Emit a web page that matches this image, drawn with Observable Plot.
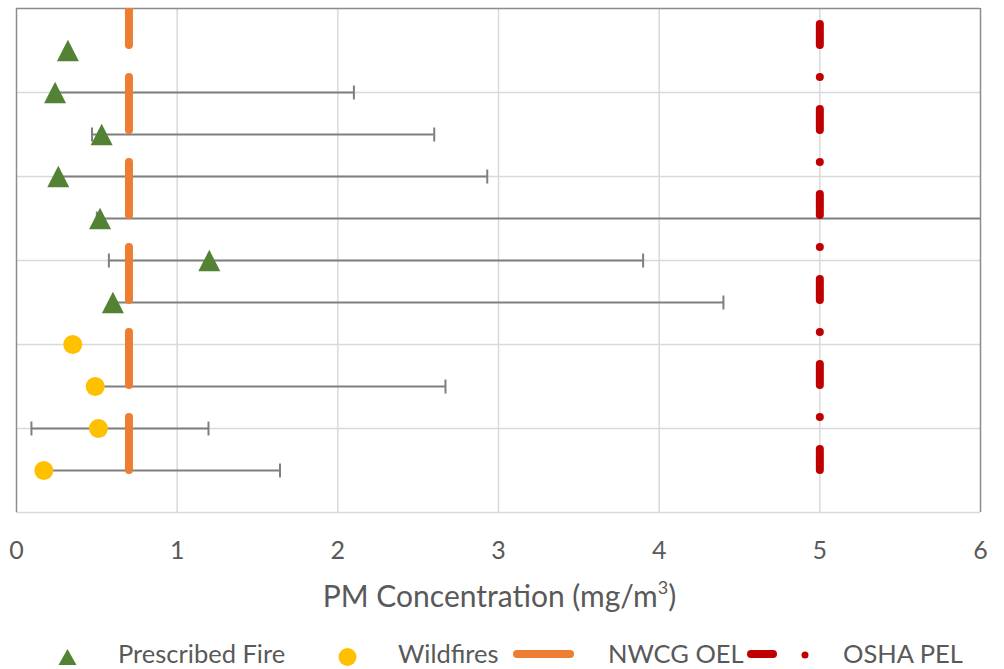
<!DOCTYPE html>
<html>
<head>
<meta charset="utf-8">
<script src="https://cdn.jsdelivr.net/npm/d3@7"></script>
<script src="https://cdn.jsdelivr.net/npm/@observablehq/plot@0.6"></script>
<style>
  body { margin: 0; background: #fff; }
  #wrap { position: relative; width: 1004px; height: 669px; overflow: hidden; font-family: Lato, sans-serif; color: #595959; }
  #chart { position: absolute; left: 0; top: 0; }
  .title { position: absolute; left: 0; width: 999px; text-align: center; top: 580px; font-size: 30px; line-height: 30px; white-space: nowrap; }
  .lg { position: absolute; top: 641px; font-size: 25.5px; line-height: 25px; white-space: nowrap; }
  #legendsw { position: absolute; left: 0; top: 0; }
</style>
</head>
<body>
<div id="wrap">
  <div id="chart"></div>
  <div class="title">PM Concentration (mg/m<sup style="font-size:0.6em;vertical-align:0.7em;line-height:0">3</sup>)</div>
</div>
<script>
// ---------------- data ----------------
const rowY   = [11, 10, 9, 8, 7, 6, 5, 4, 3, 2, 1];
const series = ["Prescribed Fire", "Prescribed Fire", "Prescribed Fire", "Prescribed Fire",
                "Prescribed Fire", "Prescribed Fire", "Prescribed Fire",
                "Wildfires", "Wildfires", "Wildfires", "Wildfires"];
const pm     = [0.32, 0.24, 0.53, 0.26, 0.52, 1.20, 0.60, 0.35, 0.49, 0.51, 0.17];
const pmLow  = [null, 0.24, 0.47, 0.26, 0.50, 0.575, 0.60, null, 0.49, 0.093, 0.17];
const pmHigh = [null, 2.10, 2.60, 2.93, 6.40, 3.90, 4.40, null, 2.67, 1.195, 1.64];
const refNames  = ["NWCG OEL", "OSHA PEL"];
const refValues = [0.7, 5];
const refSpan   = [1, 12];           // vertical extent of the limit lines (y units)
const xTicks    = [0, 1, 2, 3, 4, 5, 6];
const yGrid     = [2, 4, 6, 8, 10];
const yDomain   = [0, 12];

// ---------------- build table ----------------
const rows = rowY.map((y, i) => ({y, series: series[i], pm: pm[i], low: pmLow[i], high: pmHigh[i]}));
const withBars = rows.filter(d => d.high != null);
const refs = refNames.map((name, i) => ({name, x: refValues[i], y1: refSpan[0], y2: refSpan[1]}));

const colors = {"Prescribed Fire": "#548235", "Wildfires": "#ffc000", "NWCG OEL": "#ed7d31", "OSHA PEL": "#c00000"};

const capSymbol = {draw(ctx, size) { const h = Math.sqrt(size / Math.PI); ctx.moveTo(0, -h); ctx.lineTo(0, h); }};
const triSymbol = {draw(ctx, size) { const h = Math.sqrt(size / Math.PI); ctx.moveTo(0, -h * 0.97); ctx.lineTo(h, h * 0.97); ctx.lineTo(-h, h * 0.97); ctx.closePath(); }};

const W = 1004, H = 570;
const chart = Plot.plot({
  width: W, height: H,
  marginTop: 8, marginLeft: 16, marginRight: 24, marginBottom: 58,
  style: {fontFamily: "Lato, sans-serif", background: "#fff", color: "#595959"},
  x: {domain: [xTicks[0], xTicks[xTicks.length - 1]]},
  y: {domain: yDomain, axis: null},
  marks: [
    Plot.ruleX(xTicks.slice(1, -1), {stroke: "#d9d9d9", strokeWidth: 1.5}),
    Plot.ruleY(yGrid, {stroke: "#d9d9d9", strokeWidth: 1.5}),
    Plot.ruleY([yDomain[0]], {stroke: "#d9d9d9", strokeWidth: 1.5}),
    Plot.ruleY([yDomain[1]], {stroke: "#8c8c8c", strokeWidth: 1.5}),
    Plot.ruleX([xTicks[0], xTicks[xTicks.length - 1]], {stroke: "#8c8c8c", strokeWidth: 1.5}),
    // error bars
    Plot.ruleY(withBars, {y: "y", x1: "low", x2: "high", stroke: "#7f7f7f", strokeWidth: 2, clip: true}),
    Plot.dot(withBars, {x: "low", y: "y", symbol: capSymbol, r: 7, stroke: "#7f7f7f", strokeWidth: 2, fill: "none", clip: true}),
    Plot.dot(withBars, {x: "high", y: "y", symbol: capSymbol, r: 7, stroke: "#7f7f7f", strokeWidth: 2, fill: "none", clip: true}),
    // markers
    Plot.dot(rows.filter(d => d.series === "Prescribed Fire"), {x: "pm", y: "y", symbol: triSymbol, r: 11, fill: colors["Prescribed Fire"], stroke: "none"}),
    Plot.dot(rows.filter(d => d.series === "Wildfires"), {x: "pm", y: "y", r: 9.5, fill: colors["Wildfires"], stroke: "none"}),
    // limit lines
    Plot.ruleX(refs.filter(d => d.name === "NWCG OEL"), {x: "x", y1: "y1", y2: "y2", stroke: colors["NWCG OEL"], strokeWidth: 8, strokeDasharray: "53,32", strokeLinecap: "round", clip: true}),
    Plot.ruleX(refs.filter(d => d.name === "OSHA PEL"), {x: "x", y1: "y1", y2: "y2", stroke: colors["OSHA PEL"], strokeWidth: 8, strokeDasharray: "21,32,0,32", strokeLinecap: "round", clip: true}),
    Plot.axisX(xTicks, {tickSize: 0, tickPadding: 29, fontSize: 25, fill: "#595959", label: null, tickFormat: d => String(d)}),
  ]
});
document.getElementById("chart").appendChild(chart);

// ---------------- legend ----------------
const wrap = document.getElementById("wrap");
const legendItems = [
  {name: "Prescribed Fire", textX: 118},
  {name: "Wildfires", textX: 398},
  {name: "NWCG OEL", textX: 608},
  {name: "OSHA PEL", textX: 843}
];
legendItems.forEach(it => {
  const s = document.createElement("div");
  s.className = "lg";
  s.style.left = it.textX + "px";
  s.textContent = it.name;
  wrap.appendChild(s);
});
const svg = d3.select(wrap).append("svg").attr("id", "legendsw").attr("width", W).attr("height", 669);
svg.append("path").attr("d", "M67.5,649 L76.5,665 L58.5,665 Z").attr("fill", colors["Prescribed Fire"]);
svg.append("circle").attr("cx", 347.5).attr("cy", 657).attr("r", 9).attr("fill", colors["Wildfires"]);
svg.append("line").attr("x1", 517).attr("x2", 570).attr("y1", 654).attr("y2", 654)
   .attr("stroke", colors["NWCG OEL"]).attr("stroke-width", 8).attr("stroke-linecap", "round");
svg.append("line").attr("x1", 751).attr("x2", 773).attr("y1", 654).attr("y2", 654)
   .attr("stroke", colors["OSHA PEL"]).attr("stroke-width", 8).attr("stroke-linecap", "round");
svg.append("circle").attr("cx", 805).attr("cy", 655).attr("r", 3.5).attr("fill", colors["OSHA PEL"]);
</script>
</body>
</html>
